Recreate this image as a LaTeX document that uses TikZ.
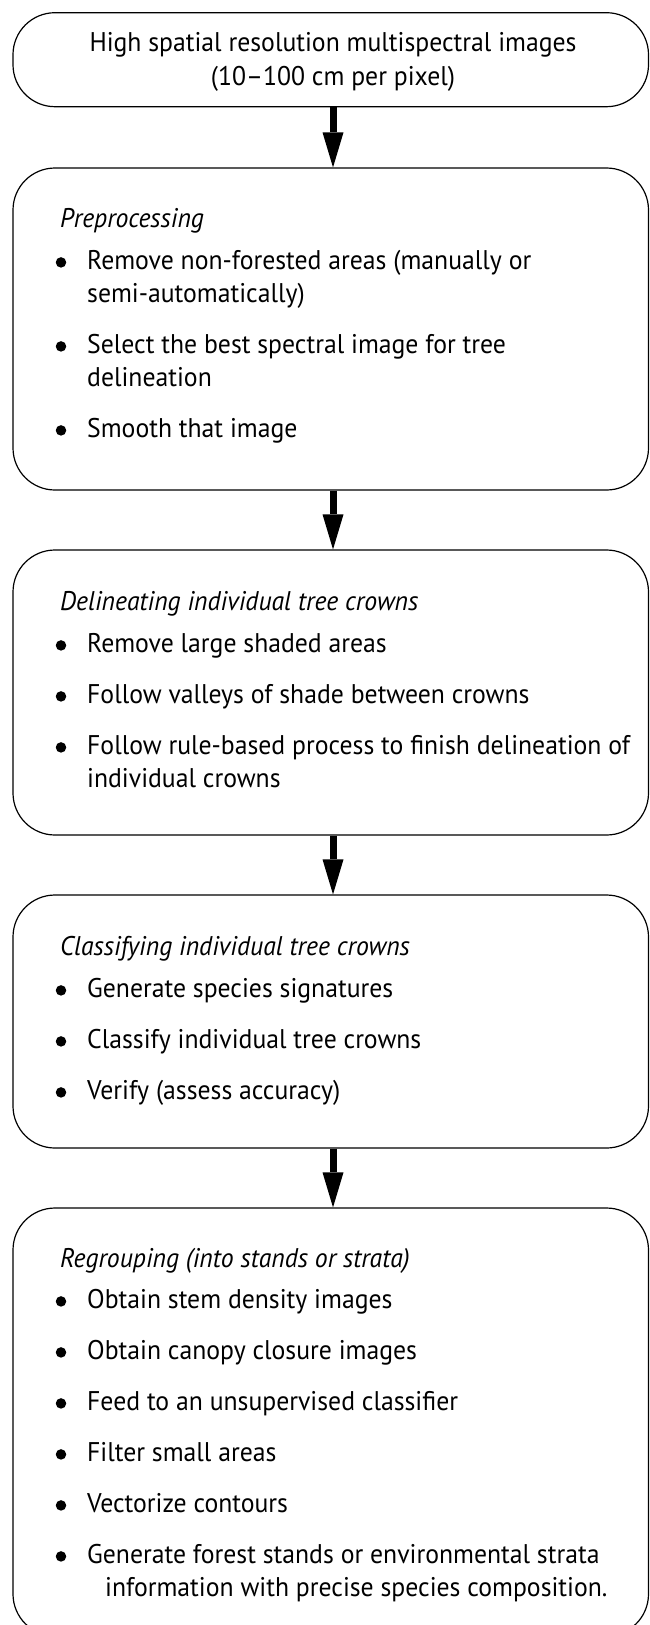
\documentclass[tikz,border=0pt]{standalone}
\usepackage{fontspec}
\usetikzlibrary{arrows.meta}
\newfontfamily\probefont{PT Sans}
\newlength\probewd
\settowidth\probewd{\probefont\fontsize{27}{32}\selectfont High spatial resolution multispectral images}
\pgfmathsetmacro\stretchratio{487/\probewd}
\edef\setfontnow{\noexpand\setmainfont{PT Sans}[FakeStretch=\stretchratio]}
\setfontnow
\begin{document}
\begin{tikzpicture}[x=1pt,y=-1pt,
  box/.style={draw, line width=1.2pt, rounded corners=42pt, inner sep=0pt},
  txt/.style={anchor=base west, inner sep=0pt, font=\fontsize{27}{32}\selectfont},
  ctr/.style={anchor=base, inner sep=0pt, font=\fontsize{27}{32}\selectfont},
  head/.style={anchor=base west, inner sep=0pt, font=\fontsize{27}{32}\selectfont\itshape},
  bul/.style={circle, fill, inner sep=0pt, minimum size=10.5pt},
  arr/.style={line width=7pt, -{Triangle[length=35pt,width=21pt,line width=0pt]}}]
\path[use as bounding box] (0,0) rectangle (650,1625);
\clip (0,0) rectangle (650,1625);
% boxes
\node[box, minimum width=635.5pt, minimum height=94pt] (b1) at (330.75,59.7) {};
\node[box, minimum width=635.5pt, minimum height=322pt] (b2) at (330.75,329) {};
\node[box, minimum width=635.5pt, minimum height=285pt] (b3) at (330.75,692.5) {};
\node[box, minimum width=635.5pt, minimum height=253pt] (b4) at (330.75,1021.5) {};
\node[box, minimum width=635.5pt, minimum height=428pt] (b5) at (330.75,1422) {};
% arrows
\draw[arr] ([xshift=2.25pt]b1.south) -- ([xshift=2.25pt]b2.north);
\draw[arr] ([xshift=2.25pt]b2.south) -- ([xshift=2.25pt]b3.north);
\draw[arr] ([xshift=2.25pt]b3.south) -- ([xshift=2.25pt]b4.north);
\draw[arr] ([xshift=2.25pt]b4.south) -- ([xshift=2.25pt]b5.north);
% box 1
\node[ctr] (t1a) at (333,51) {High spatial resolution multispectral images};
\node[ctr] (t1b) at (333,85) {(10–100 cm per pixel)};
% box 2
\node[head] (t2h) at (60,227) {Preprocessing};
\node[bul] (p2a) at (61,262.4) {};
\node[txt] (t2a) at (87,269) {Remove non-forested areas (manually or};
\node[txt] (t2b) at (87,302) {semi-automatically)};
\node[bul] (p2c) at (61,346.4) {};
\node[txt] (t2c) at (87,353) {Select the best spectral image for tree};
\node[txt] (t2d) at (87,386) {delineation};
\node[bul] (p2e) at (61,430.4) {};
\node[txt] (t2e) at (87,437) {Smooth that image};
% box 3
\node[head] (t3h) at (60,610) {Delineating individual tree crowns};
\node[bul] (p3a) at (61,645.4) {};
\node[txt] (t3a) at (87,652) {Remove large shaded areas};
\node[bul] (p3b) at (61,696.4) {};
\node[txt] (t3b) at (87,703) {Follow valleys of shade between crowns};
\node[bul] (p3c) at (61,747.4) {};
\node[txt] (t3c) at (87,754) {Follow rule-based process to finish delineation of};
\node[txt] (t3d) at (87,787) {individual crowns};
% box 4
\node[head] (t4h) at (60,955) {Classifying individual tree crowns};
\node[bul] (p4a) at (61,990.4) {};
\node[txt] (t4a) at (87,997) {Generate species signatures};
\node[bul] (p4b) at (61,1041.4) {};
\node[txt] (t4b) at (87,1048) {Classify individual tree crowns};
\node[bul] (p4c) at (61,1092.4) {};
\node[txt] (t4c) at (87,1099) {Verify (assess accuracy)};
% box 5
\node[head] (t5h) at (60,1267) {Regrouping (into stands or strata)};
\node[bul] (p5a) at (61,1301.4) {};
\node[txt] (t5a) at (87,1308) {Obtain stem density images};
\node[bul] (p5b) at (61,1352.4) {};
\node[txt] (t5b) at (87,1359) {Obtain canopy closure images};
\node[bul] (p5c) at (61,1403.4) {};
\node[txt] (t5c) at (87,1410) {Feed to an unsupervised classifier};
\node[bul] (p5d) at (61,1454.4) {};
\node[txt] (t5d) at (87,1461) {Filter small areas};
\node[bul] (p5e) at (61,1505.4) {};
\node[txt] (t5e) at (87,1512) {Vectorize contours};
\node[bul] (p5f) at (61,1556.4) {};
\node[txt] (t5f) at (87,1563) {Generate forest stands or environmental strata};
\node[txt] (t5g) at (105,1596) {information with precise species composition.};
\end{tikzpicture}
\end{document}
